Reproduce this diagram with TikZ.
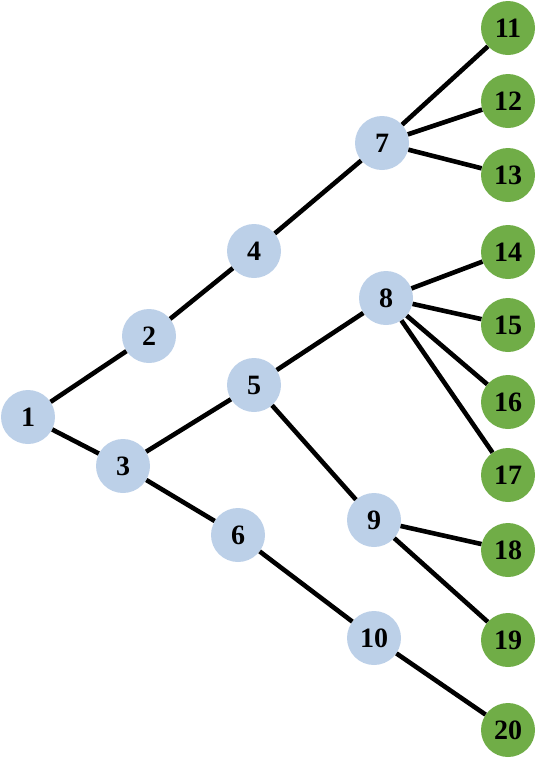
\documentclass[tikz,border=0pt]{standalone}
\usepackage{fontspec}
\setmainfont{Liberation Serif}
\definecolor{inner}{HTML}{BCD0E8}
\definecolor{leaf}{HTML}{70AD47}
\begin{document}
\begin{tikzpicture}[x=1pt,y=-1pt,
  inode/.style={circle,fill=inner,minimum size=54pt,inner sep=0pt,font=\fontsize{28}{28}\selectfont\bfseries},
  lnode/.style={circle,fill=leaf,minimum size=54pt,inner sep=0pt,font=\fontsize{28}{28}\selectfont\bfseries},
  edge/.style={line width=4.6pt,black}]
\useasboundingbox (0,0) rectangle (539,761);
\node[inode] (n1) at (28,417) {1};
\node[inode] (n2) at (149,336) {2};
\node[inode] (n3) at (123,466) {3};
\node[inode] (n4) at (254,251) {4};
\node[inode] (n5) at (254,385) {5};
\node[inode] (n6) at (238,535) {6};
\node[inode] (n7) at (382,143) {7};
\node[inode] (n8) at (386,298) {8};
\node[inode] (n9) at (374,520) {9};
\node[inode] (n10) at (374,638) {10};
\node[lnode] (n11) at (508,28) {11};
\node[lnode] (n12) at (508,101) {12};
\node[lnode] (n13) at (508,175) {13};
\node[lnode] (n14) at (508,252) {14};
\node[lnode] (n15) at (508,325) {15};
\node[lnode] (n16) at (508,402) {16};
\node[lnode] (n17) at (508,475) {17};
\node[lnode] (n18) at (508,550) {18};
\node[lnode] (n19) at (508,640) {19};
\node[lnode] (n20) at (508,730) {20};
\foreach \a/\b in {n1/n2,n1/n3,n2/n4,n4/n7,n3/n5,n3/n6,n5/n8,n5/n9,n6/n10,
  n7/n11,n7/n12,n7/n13,n8/n14,n8/n15,n8/n16,n8/n17,n9/n18,n9/n19,n10/n20}
  \draw[edge] (\a) -- (\b);
\end{tikzpicture}
\end{document}
